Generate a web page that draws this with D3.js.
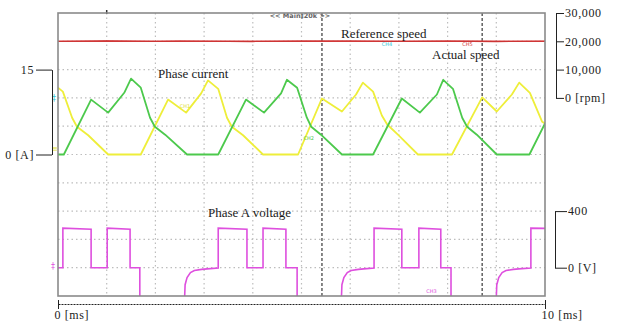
<!DOCTYPE html>
<html>
<head>
<meta charset="utf-8">
<script src="https://cdn.jsdelivr.net/npm/d3@7.9.0/dist/d3.min.js"></script>
<style>
  body { margin: 0; background: #fff; }
  svg { display: block; }
</style>
</head>
<body>
<script>
// time base in ms, cursor positions
const timeTicks = [0, 10];
const timeTickLabels = ["0 [ms]", "10 [ms]"];
const cursorTimes = [5.42, 8.71];

// phase currents, [ms, A]
const greenCurrent = [
  [0, 0], [0.12, 0], [0.68, 9.7], [1.03, 7.4], [1.36, 10.9], [1.50, 13.4], [1.70, 11.8],
  [1.89, 6.5], [1.99, 4.9], [2.20, 3.5], [2.65, 0], [3.29, 0], [3.86, 9.7], [4.23, 7.4],
  [4.58, 10.8], [4.70, 13.2], [4.91, 11.8], [5.11, 6.5], [5.20, 4.9], [5.40, 3.5], [5.83, 0],
  [6.47, 0], [7.06, 9.9], [7.43, 7.4], [7.78, 10.6], [7.91, 13.2], [8.11, 11.6], [8.30, 6.5],
  [8.40, 4.9], [8.60, 3.5], [9.01, 0], [9.68, 0], [10, 5.5]
];
const yellowCurrent = [
  [0, 11.8], [0.10, 11.1], [0.29, 6.5], [0.39, 4.9], [0.62, 3.4], [1.03, 0], [1.70, 0],
  [2.26, 9.7], [2.63, 7.4], [2.94, 10.8], [3.08, 13.1], [3.29, 11.6], [3.47, 6.5], [3.57, 4.9],
  [3.80, 3.4], [4.21, 0], [4.93, 0], [5.42, 9.9], [5.83, 7.6], [6.12, 10.6], [6.26, 12.7],
  [6.47, 11.1], [6.65, 6.9], [6.76, 5.3], [6.98, 3.5], [7.39, 0], [8.09, 0], [8.71, 10.1],
  [9.01, 7.6], [9.32, 10.6], [9.47, 12.7], [9.69, 10.9], [9.94, 5.8], [10, 5.5]
];
const currentTicks = [0, 15];
const currentTickLabels = ["0 [A]", "15"];

// speed, [ms, rpm]
const referenceSpeed = [[0, 20000], [10, 20000]];
const actualSpeed = [
  [0, 19950], [1, 20150], [2, 19950], [2.5, 20050], [3, 20000], [4, 19900], [5, 20050],
  [6, 20100], [7, 19950], [8, 20050], [9, 19900], [10, 20000]
];
const speedTicks = [0, 10000, 20000, 30000];
const speedTickLabels = ["0 [rpm]", "10,000", "20,000", "30,000"];

// phase A voltage, [ms, V]
const phaseVoltage = [
  [0, 0], [0.10, 0], [0.10, 280], [0.68, 272], [0.68, 0], [1.01, 0], [1.01, 280], [1.48, 272],
  [1.48, 0], [1.68, 0], [1.68, -300], [2.59, -300], [2.61, -120], [2.65, -70], [2.72, -35],
  [2.80, -20], [2.95, -12], [3.06, -8], [3.29, -2], [3.29, 280], [3.88, 272], [3.88, 0],
  [4.21, 0], [4.21, 280], [4.68, 272], [4.68, 0], [4.91, 0], [4.91, -300], [5.81, -300],
  [5.83, -120], [5.87, -70], [5.94, -35], [6.02, -20], [6.17, -12], [6.28, -8], [6.49, -2],
  [6.49, 280], [7.06, 272], [7.06, 0], [7.41, 0], [7.41, 280], [7.86, 272], [7.86, 0],
  [8.07, 0], [8.07, -300], [8.99, -300], [9.01, -120], [9.05, -70], [9.12, -35], [9.20, -20],
  [9.35, -12], [9.46, -8], [9.71, -2], [9.71, 280], [10, 278]
];
const voltTicks = [0, 400];
const voltTickLabels = ["0 [V]", "400"];

const width = 626, height = 323;
const plot = { left: 58, right: 545, top: 13, bottom: 296 };
const serif = "'Liberation Serif', 'DejaVu Serif', serif";

const svg = d3.select("body").append("svg")
  .attr("width", width)
  .attr("height", height);

// scales
const x = d3.scaleLinear().domain([0, 10]).range([plot.left, plot.right]);
const yCur = d3.scaleLinear().domain([-25, 25]).range([plot.bottom, plot.top]);
const ySpeed = d3.scaleLinear().domain([-70000, 30000]).range([plot.bottom, plot.top]);
const yVolt = d3.scaleLinear().domain([-200, 1800]).range([plot.bottom, plot.top]);

svg.append("defs").append("clipPath").attr("id", "clip")
  .append("rect")
  .attr("x", plot.left).attr("y", plot.top)
  .attr("width", plot.right - plot.left).attr("height", plot.bottom - plot.top);

// dotted grid
const grid = svg.append("g");
grid.selectAll("line.v")
  .data(d3.range(1, 10))
  .join("line")
  .attr("x1", d => x(d)).attr("x2", d => x(d))
  .attr("y1", plot.top).attr("y2", plot.bottom)
  .attr("stroke", "#bdbdbd").attr("stroke-width", 1.2)
  .attr("stroke-dasharray", "1.5 3");
grid.selectAll("line.h")
  .data(d3.range(-20, 25, 5))
  .join("line")
  .attr("x1", plot.left).attr("x2", plot.right)
  .attr("y1", d => yCur(d)).attr("y2", d => yCur(d))
  .attr("stroke", "#bdbdbd").attr("stroke-width", 1.2)
  .attr("stroke-dasharray", "1.5 3");

// cursors
svg.selectAll("line.cursor")
  .data(cursorTimes)
  .join("line")
  .attr("x1", d => x(d)).attr("x2", d => x(d))
  .attr("y1", plot.top).attr("y2", plot.bottom)
  .attr("stroke", "#555").attr("stroke-width", 1.4)
  .attr("stroke-dasharray", "3 2");

// top status text and trigger marker
svg.append("text")
  .attr("x", 300).attr("y", 18)
  .attr("text-anchor", "middle")
  .attr("font-family", "'DejaVu Sans', sans-serif")
  .attr("font-size", 6.5).attr("font-weight", "bold")
  .attr("fill", "#666")
  .text("<< Main‡20k >>");
svg.append("line")
  .attr("x1", x(1)).attr("x2", x(1))
  .attr("y1", 10).attr("y2", 14)
  .attr("stroke", "#333").attr("stroke-width", 1.5);

const traces = svg.append("g").attr("clip-path", "url(#clip)");

const curLine = d3.line().x(d => x(d[0])).y(d => yCur(d[1]));
const spdLine = d3.line().x(d => x(d[0])).y(d => ySpeed(d[1]));
const voltLine = d3.line().x(d => x(d[0])).y(d => yVolt(d[1]));

traces.append("path").datum(referenceSpeed)
  .attr("d", spdLine).attr("fill", "none")
  .attr("stroke", "#dc4040").attr("stroke-width", 1.4);
traces.append("path").datum(actualSpeed)
  .attr("d", spdLine).attr("fill", "none")
  .attr("stroke", "#cc3434").attr("stroke-width", 1.1);

traces.append("path").datum(yellowCurrent)
  .attr("d", curLine).attr("fill", "none")
  .attr("stroke", "#eeee3a").attr("stroke-width", 1.8)
  .attr("stroke-linejoin", "round");
traces.append("path").datum(greenCurrent)
  .attr("d", curLine).attr("fill", "none")
  .attr("stroke", "#4cc94c").attr("stroke-width", 1.8)
  .attr("stroke-linejoin", "round");

traces.append("path").datum(phaseVoltage)
  .attr("d", voltLine).attr("fill", "none")
  .attr("stroke", "#de4fde").attr("stroke-width", 1.6);

// frame
svg.append("rect")
  .attr("x", plot.left).attr("y", plot.top)
  .attr("width", plot.right - plot.left).attr("height", plot.bottom - plot.top)
  .attr("fill", "none").attr("stroke", "#8a8a8a").attr("stroke-width", 1.6);

// tiny channel tags
const tags = [
  { t: "CH4", x: 6.65, y: ySpeed(18400), c: "#35c6d6" },
  { t: "CH5", x: 8.30, y: ySpeed(18400), c: "#d23a3a" },
  { t: "CH2", x: 5.04, y: yCur(2.5), c: "#4cc94c" },
  { t: "CH1", x: 2.5, y: yCur(8.3), c: "#e0e030" },
  { t: "CH3", x: 7.56, y: yVolt(-180), c: "#de4fde" }
];
svg.selectAll("text.tag")
  .data(tags)
  .join("text")
  .attr("x", d => x(d.x)).attr("y", d => d.y)
  .attr("font-family", "'DejaVu Sans', sans-serif")
  .attr("font-size", 5).attr("fill", d => d.c)
  .text(d => d.t);

// ground markers at left edge
svg.append("text").attr("x", 52).attr("y", yCur(9.5)).attr("font-size", 8)
  .attr("font-family", "'DejaVu Sans', sans-serif").attr("fill", "#35c6d6").text("‡");
svg.append("text").attr("x", 51).attr("y", yVolt(-10)).attr("font-size", 8)
  .attr("font-family", "'DejaVu Sans', sans-serif").attr("fill", "#de4fde").text("‡");
svg.append("text").attr("x", 52).attr("y", yCur(0.6)).attr("font-size", 7)
  .attr("font-family", "'DejaVu Sans', sans-serif").attr("fill", "#e0e030").text("≡");

// trace labels
const labels = [
  { t: "Phase current", x: 158, y: yCur(13.6) },
  { t: "Reference speed", x: 341, y: ySpeed(21300) },
  { t: "Actual speed", x: 432, y: ySpeed(13600) },
  { t: "Phase A voltage", x: 208, y: yVolt(360) }
];
svg.selectAll("text.lbl")
  .data(labels)
  .join("text")
  .attr("x", d => d.x).attr("y", d => d.y)
  .attr("font-family", serif)
  .attr("font-size", 13)
  .attr("fill", "#1a1a1a")
  .text(d => d.t);

function styleAxis(g) {
  g.select(".domain").attr("stroke", "#222").attr("stroke-width", 1);
  g.selectAll(".tick line").attr("stroke", "#222");
  g.selectAll(".tick text")
    .attr("font-family", serif)
    .attr("font-size", 12)
    .attr("fill", "#222")
    .attr("letter-spacing", 0.6);
}

// current bracket (left)
const curAxisScale = d3.scaleLinear().domain([0, 15]).range([yCur(0), yCur(15)]);
svg.append("g")
  .attr("transform", `translate(52,0)`)
  .call(d3.axisLeft(curAxisScale)
    .tickValues(currentTicks)
    .tickSize(16).tickSizeOuter(0).tickPadding(2)
    .tickFormat((d, i) => currentTickLabels[i]))
  .call(styleAxis);

// speed bracket (right)
const spdAxisScale = d3.scaleLinear().domain([0, 30000]).range([ySpeed(0), ySpeed(30000)]);
svg.append("g")
  .attr("transform", `translate(556,0)`)
  .call(d3.axisRight(spdAxisScale)
    .tickValues(speedTicks)
    .tickSize(8).tickSizeOuter(0).tickPadding(1)
    .tickFormat((d, i) => speedTickLabels[i]))
  .call(styleAxis);

// voltage bracket (right)
const voltAxisScale = d3.scaleLinear().domain([0, 400]).range([yVolt(0), yVolt(400)]);
svg.append("g")
  .attr("transform", `translate(555,0)`)
  .call(d3.axisRight(voltAxisScale)
    .tickValues(voltTicks)
    .tickSize(12).tickSizeOuter(0).tickPadding(1)
    .tickFormat((d, i) => voltTickLabels[i]))
  .call(styleAxis);

// time axis (bottom)
const timeAxis = svg.append("g")
  .attr("transform", `translate(0,304)`)
  .call(d3.axisBottom(x)
    .tickValues(timeTicks)
    .tickSize(5).tickSizeOuter(0).tickPadding(1)
    .tickFormat((d, i) => timeTickLabels[i]))
  .call(styleAxis);
timeAxis.select(".domain").attr("stroke-dasharray", "2 1");
timeAxis.selectAll(".tick line").attr("y1", -4);
timeAxis.selectAll(".tick text").attr("text-anchor", "start").attr("dx", -4);
</script>
</body>
</html>
